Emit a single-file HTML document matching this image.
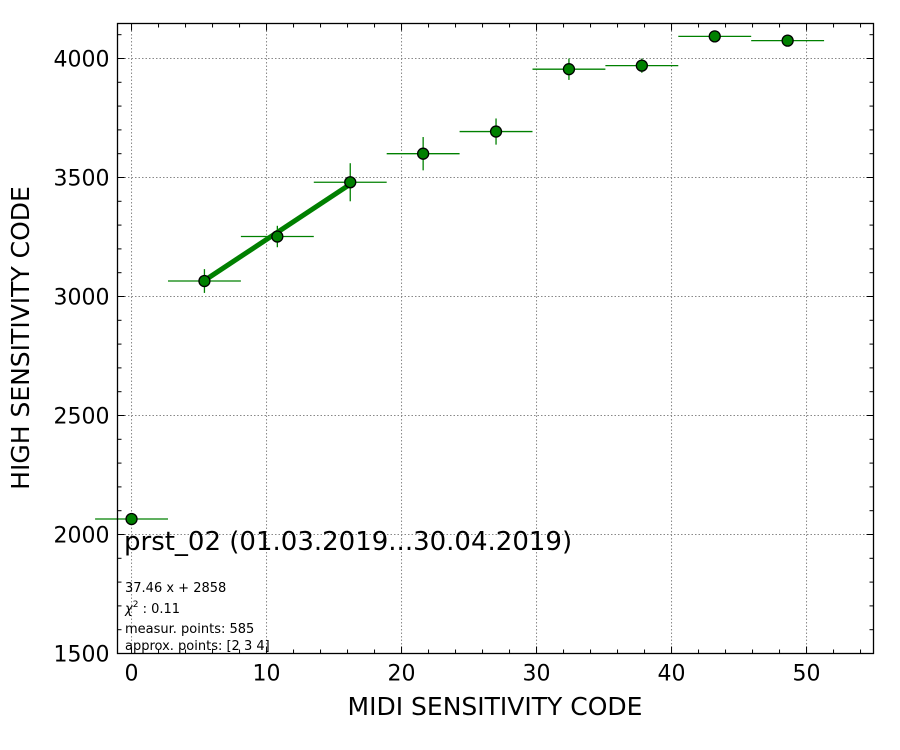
<!DOCTYPE html>
<html><head><meta charset="utf-8"><style>
body{margin:0;background:#fff}
svg{display:block;font-family:"DejaVu Sans","Liberation Sans",sans-serif}
</style></head><body>
<svg id="c" width="900" height="750" xmlns="http://www.w3.org/2000/svg"></svg>
<script>
const xVals=[0,5.4,10.8,16.2,21.6,27,32.4,37.8,43.2,48.6];
const yVals=[2065,3065,3252,3480,3600,3693,3955,3970,4093,4075];
const xErr=[2.7,2.7,2.7,2.7,2.7,2.7,2.7,2.7,2.7,2.7];
const yErr=[0,50,45,80,70,55,45,30,5,5];
const fitIdx=[1,3];
const fitSlope=37.46, fitIntercept=2858;
const xTicks=[0,10,20,30,40,50];
const yTicks=[1500,2000,2500,3000,3500,4000];
const L=117.5,R=873.5,T=23.5,B=653.5;
const X0=-1.04,X1=54.96,Y0=1500,Y1=4147;
const sx=v=>L+(v-X0)/(X1-X0)*(R-L);
const sy=v=>B-(v-Y0)/(Y1-Y0)*(B-T);
const svg=document.getElementById('c');
const NS='http://www.w3.org/2000/svg';
function mk(t,a,name){const e=document.createElementNS(NS,t);for(const k in a)e.setAttribute(k,a[k]);


svg.appendChild(e);return e;}
// grid
xTicks.forEach(v=>{mk('line',{x1:sx(v),x2:sx(v),y1:T,y2:B,stroke:'#888','stroke-dasharray':'1.5,2','stroke-width':1},'x-grid-line');});
yTicks.forEach(v=>{mk('line',{x1:L,x2:R,y1:sy(v),y2:sy(v),stroke:'#888','stroke-dasharray':'1.5,2','stroke-width':1},'y-grid-line');});
// ticks
for(let v=0;v<=54;v+=2){const maj=v%10==0,len=maj?7:4,x=sx(v);
mk('line',{x1:x,x2:x,y1:B,y2:B-len,stroke:'#000'},'x-tick');
mk('line',{x1:x,x2:x,y1:T,y2:T+len,stroke:'#000'},'x-tick-top');}
for(let v=1500;v<=4100;v+=100){const maj=v%500==0,len=maj?7:4,y=sy(v);
mk('line',{x1:L,x2:L+len,y1:y,y2:y,stroke:'#000'},'y-tick');
mk('line',{x1:R,x2:R-len,y1:y,y2:y,stroke:'#000'},'y-tick-right');}
xTicks.forEach(v=>{const t=mk('text',{x:sx(v),y:B+27,'text-anchor':'middle','font-size':22},'x-tick-label');t.textContent=v;});
yTicks.forEach(v=>{const t=mk('text',{x:L-8,y:sy(v)+8,'text-anchor':'end','font-size':22},'y-tick-label');t.textContent=v;});
// error bars
xVals.forEach((x,i)=>{
mk('line',{x1:sx(x-xErr[i]),x2:sx(x+xErr[i]),y1:sy(yVals[i]),y2:sy(yVals[i]),stroke:'green','stroke-width':1.3},'x-error-bar');
if(yErr[i]>0)mk('line',{x1:sx(x),x2:sx(x),y1:sy(yVals[i]-yErr[i]),y2:sy(yVals[i]+yErr[i]),stroke:'green','stroke-width':1.3},'y-error-bar');
});
// fit line
const fa=xVals[fitIdx[0]],fb=xVals[fitIdx[1]];
mk('line',{x1:sx(fa),y1:sy(fitSlope*fa+fitIntercept+7),x2:sx(fb),y2:sy(fitSlope*fb+fitIntercept+7),stroke:'green','stroke-width':5},'fit-line');
// points
xVals.forEach((x,i)=>{mk('circle',{cx:sx(x),cy:sy(yVals[i]),r:5.5,fill:'green',stroke:'#000','stroke-width':1.3},'data-point');});
// frame
mk('rect',{x:L,y:T,width:R-L,height:B-T,fill:'none',stroke:'#000','stroke-width':1.3},'plot-frame');
</script>
<svg width="900" height="750" style="position:absolute;left:0;top:0" xmlns="http://www.w3.org/2000/svg">
<text x="124" y="550" font-size="26">prst_02 (01.03.2019...30.04.2019)</text>
<text x="125" y="592" font-size="13">37.46 x + 2858</text>
<text x="125" y="613" font-size="13"><tspan font-style="italic">χ</tspan><tspan font-size="9" dy="-6">2</tspan><tspan dy="6"> : 0.11</tspan></text>
<text x="125" y="633" font-size="13">measur. points: 585</text>
<text x="125" y="650" font-size="13">approx. points: [2 3 4]</text>
<text x="495" y="715" font-size="25" text-anchor="middle">MIDI SENSITIVITY CODE</text>
<text transform="translate(29,338) rotate(-90)" font-size="25" text-anchor="middle">HIGH SENSITIVITY CODE</text>
</svg>
</body></html>
